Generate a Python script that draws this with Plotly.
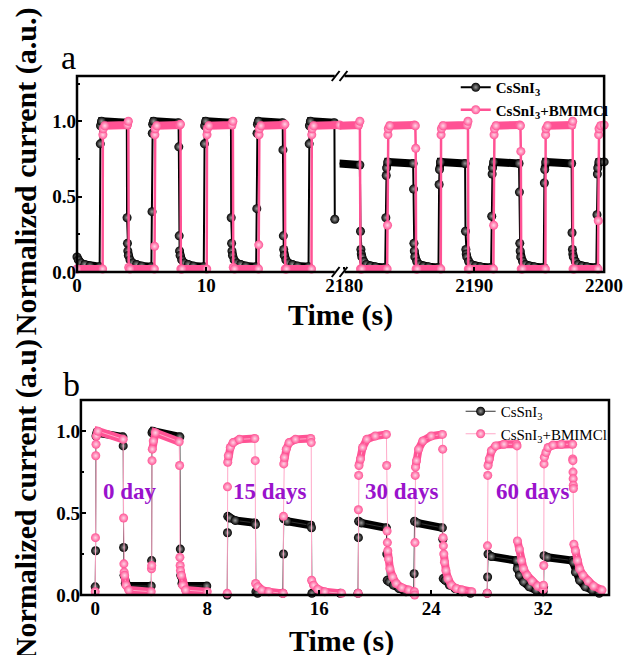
import plotly.graph_objects as go

# ---------------- Panel a : left segment (0 - 20.3 s) ----------------
a_black_left_t = [0, 0.1, 0.3, 0.6, 1.0, 1.75,
                  1.8, 1.82, 1.9, 3.85,
                  3.87, 3.9, 3.93, 3.97, 4.1, 4.3, 4.6, 5.0, 5.75,
                  5.8, 5.82, 5.85, 5.92, 7.85,
                  7.87, 7.9, 7.93, 7.97, 8.1, 8.3, 8.6, 9.0, 9.8,
                  9.85, 9.87, 9.95, 11.9,
                  11.92, 11.95, 11.98, 12.02, 12.15, 12.35, 12.65, 13.05, 13.85,
                  13.9, 13.92, 13.95, 14.02, 15.9,
                  15.92, 15.95, 15.98, 16.02, 16.15, 16.35, 16.65, 17.05, 17.9,
                  17.95, 17.97, 18.05, 19.9, 19.93]
a_black_left_v = [0.10, 0.08, 0.06, 0.05, 0.04, 0.035,
                  0.85, 0.97, 1.00, 0.99,
                  0.36, 0.19, 0.14, 0.11, 0.08, 0.06, 0.05, 0.04, 0.035,
                  0.40, 0.92, 0.98, 1.00, 0.99,
                  0.83, 0.24, 0.14, 0.11, 0.08, 0.06, 0.05, 0.04, 0.035,
                  0.85, 0.97, 1.00, 0.99,
                  0.36, 0.19, 0.14, 0.11, 0.08, 0.06, 0.05, 0.04, 0.035,
                  0.42, 0.92, 0.98, 1.00, 0.99,
                  0.81, 0.24, 0.15, 0.11, 0.08, 0.06, 0.05, 0.04, 0.035,
                  0.85, 0.97, 1.00, 0.99, 0.35]

a_pink_left_t = [0, 1.98,
                 2.0, 2.03, 2.15, 3.9, 3.97,
                 4.0, 4.1, 5.98,
                 6.0, 6.02, 6.05, 6.17, 7.93, 8.0,
                 8.03, 8.12, 10.03,
                 10.05, 10.08, 10.2, 11.98, 12.05,
                 12.08, 12.18, 14.03,
                 14.05, 14.07, 14.1, 14.22, 16.0, 16.07,
                 16.1, 16.2, 18.13,
                 18.15, 18.18, 18.3, 20.3]
a_pink_left_v = [0.02, 0.02,
                 0.91, 0.95, 0.97, 0.975, 1.0,
                 0.03, 0.02, 0.02,
                 0.17, 0.91, 0.95, 0.97, 0.975, 0.98,
                 0.02, 0.02, 0.02,
                 0.91, 0.95, 0.97, 0.975, 1.0,
                 0.03, 0.02, 0.02,
                 0.18, 0.91, 0.95, 0.97, 0.975, 0.98,
                 0.02, 0.02, 0.02,
                 0.91, 0.95, 0.97, 0.975]

# ---------------- Panel a : right segment (2179.6 - 2200 s) ----------------
a_black_right_t = [2179.6, 2181.2,
                   2181.25, 2181.28, 2181.31, 2181.35, 2181.5, 2181.7, 2182.0, 2182.4, 2183.15,
                   2183.2, 2183.23, 2183.26, 2183.35, 2185.3,
                   2185.33, 2185.36, 2185.39, 2185.43, 2185.58, 2185.78, 2186.08, 2186.48, 2187.25,
                   2187.3, 2187.33, 2187.41, 2189.3,
                   2189.33, 2189.36, 2189.39, 2189.43, 2189.58, 2189.78, 2190.08, 2190.48, 2191.3,
                   2191.35, 2191.38, 2191.41, 2191.5, 2193.45,
                   2193.48, 2193.51, 2193.54, 2193.58, 2193.73, 2193.93, 2194.23, 2194.63, 2195.35,
                   2195.4, 2195.43, 2195.51, 2197.5,
                   2197.53, 2197.56, 2197.59, 2197.63, 2197.78, 2197.98, 2198.28, 2198.68, 2199.4,
                   2199.45, 2199.48, 2199.51, 2199.6, 2200]
a_black_right_v = [0.72, 0.71,
                   0.27, 0.15, 0.12, 0.10, 0.07, 0.05, 0.04, 0.035, 0.03,
                   0.36, 0.64, 0.69, 0.73, 0.72,
                   0.55, 0.19, 0.14, 0.10, 0.07, 0.05, 0.04, 0.035, 0.03,
                   0.58, 0.68, 0.73, 0.72,
                   0.27, 0.15, 0.12, 0.10, 0.07, 0.05, 0.04, 0.035, 0.03,
                   0.37, 0.65, 0.69, 0.73, 0.72,
                   0.53, 0.19, 0.14, 0.10, 0.07, 0.05, 0.04, 0.035, 0.03,
                   0.59, 0.68, 0.73, 0.72,
                   0.26, 0.15, 0.12, 0.10, 0.07, 0.05, 0.04, 0.035, 0.03,
                   0.38, 0.65, 0.69, 0.73, 0.73]

a_pink_right_t = [2179.6, 2181.1, 2181.2,
                  2181.25, 2181.35, 2183.3,
                  2183.33, 2183.36, 2183.39, 2183.5, 2185.4, 2185.47,
                  2185.5, 2185.53, 2185.63, 2187.43,
                  2187.45, 2187.48, 2187.6, 2189.45, 2189.52,
                  2189.55, 2189.65, 2191.48,
                  2191.5, 2191.53, 2191.56, 2191.68, 2193.5, 2193.56,
                  2193.59, 2193.62, 2193.72, 2195.48,
                  2195.5, 2195.53, 2195.65, 2197.52, 2197.58,
                  2197.61, 2197.71, 2199.53,
                  2199.55, 2199.58, 2199.61, 2199.73, 2200]
a_pink_right_v = [0.97, 0.975, 1.0,
                  0.02, 0.02, 0.02,
                  0.31, 0.91, 0.95, 0.97, 0.975, 0.97,
                  0.82, 0.02, 0.02, 0.02,
                  0.91, 0.95, 0.97, 0.975, 1.0,
                  0.02, 0.02, 0.02,
                  0.31, 0.91, 0.95, 0.97, 0.975, 0.97,
                  0.80, 0.02, 0.02, 0.02,
                  0.91, 0.95, 0.97, 0.975, 1.0,
                  0.02, 0.02, 0.02,
                  0.34, 0.91, 0.95, 0.97, 0.975]

# ---------------- Panel b : aging (0, 15, 30, 60 days) ----------------
b_black_t = [0.0, 0.03, 0.06, 0.12, 1.98, 2.0, 2.03, 2.06, 2.15, 2.3, 4.0,
             4.03, 4.06, 4.12, 6.05, 6.08, 6.11, 6.2, 6.35, 7.97,
             None,
             9.43, 9.45, 9.47, 9.6, 10.0, 11.4, 11.45, 11.48, 11.6, 13.4,
             13.45, 13.47, 13.7, 15.4, 15.45, 15.48, 17.5,
             None,
             18.77, 18.8, 18.82, 19.0, 20.8, 20.83, 20.86, 21.0, 21.3, 21.7, 22.2, 22.75,
             22.78, 22.81, 23.0, 24.8, 24.83, 24.86, 25.0, 25.3, 25.7, 26.2, 26.8,
             None,
             28.0, 28.03, 28.06, 28.3, 30.1, 30.15, 30.3, 30.6, 31.0, 31.5, 32.0,
             32.03, 32.06, 32.3, 34.1, 34.15, 34.3, 34.6, 35.0, 35.5, 36.0]
b_black_v = [0.05, 0.27, 0.97, 0.99, 0.965, 0.91, 0.29, 0.12, 0.07, 0.055, 0.055,
             0.21, 0.99, 1.0, 0.965, 0.28, 0.12, 0.07, 0.055, 0.055,
             None,
             0.0, 0.38, 0.48, 0.47, 0.455, 0.44, 0.43, 0.02, 0.01, 0.01,
             0.25, 0.465, 0.45, 0.425, 0.41, 0.01, 0.01,
             None,
             0.01, 0.35, 0.45, 0.44, 0.41, 0.25, 0.09, 0.08, 0.06, 0.04, 0.02, 0.01,
             0.13, 0.45, 0.44, 0.41, 0.34, 0.10, 0.09, 0.06, 0.04, 0.02, 0.01,
             None,
             0.01, 0.11, 0.25, 0.235, 0.21, 0.16, 0.12, 0.08, 0.05, 0.03, 0.02,
             0.05, 0.24, 0.23, 0.21, 0.20, 0.14, 0.09, 0.05, 0.03, 0.01]

b_pink_t = [0.0, 0.02, 0.04, 0.06, 0.09, 0.2, 2.0, 2.03, 2.05, 2.07, 2.1, 2.2, 2.4, 4.0,
            4.02, 4.04, 4.06, 4.08, 4.15, 4.3, 6.0, 6.03, 6.05, 6.07, 6.09, 6.15, 6.25, 6.45, 8.0,
            None,
            9.43, 9.45, 9.47, 9.51, 9.65, 9.85, 10.3, 11.4, 11.43, 11.46, 11.6, 11.9, 12.4, 13.4,
            13.43, 13.45, 13.47, 13.51, 13.65, 13.85, 14.3, 15.4, 15.43, 15.46, 15.6, 15.9, 16.4, 17.6,
            None,
            18.78, 18.8, 18.82, 18.84, 18.95, 19.1, 19.4, 20.0, 20.8, 20.82, 20.85, 20.87, 20.9,
            20.95, 21.05, 21.25, 21.5, 21.9, 22.4, 22.8,
            22.82, 22.84, 22.86, 22.88, 22.95, 23.1, 23.4, 24.0, 24.8, 24.82, 24.85, 24.87, 24.9,
            24.95, 25.05, 25.2, 25.45, 25.8, 26.2, 26.9,
            None,
            28.0, 28.02, 28.04, 28.06, 28.15, 28.3, 28.6, 29.2, 30.1, 30.13, 30.16, 30.3, 30.45,
            30.6, 30.85, 31.2, 31.6, 32.0,
            32.02, 32.04, 32.06, 32.08, 32.2, 32.35, 32.7, 33.3, 34.1, 34.11, 34.12, 34.13, 34.14,
            34.15, 34.16, 34.19, 34.3, 34.45, 34.6, 34.85, 35.2, 35.6, 36.2]
b_pink_v = [0.02, 0.35, 0.85, 0.92, 0.97, 1.0, 0.95, 0.47, 0.19, 0.14, 0.12, 0.06, 0.03, 0.02,
            0.16, 0.18, 0.82, 0.89, 0.94, 0.99, 0.935, 0.79, 0.23, 0.18, 0.15, 0.12, 0.06, 0.03, 0.02,
            None,
            0.01, 0.66, 0.81, 0.85, 0.90, 0.93, 0.95, 0.955, 0.82, 0.07, 0.05, 0.03, 0.02, 0.01,
            0.01, 0.48, 0.80, 0.84, 0.89, 0.93, 0.95, 0.955, 0.93, 0.09, 0.06, 0.035, 0.02, 0.01,
            None,
            0.01, 0.52, 0.73, 0.79, 0.83, 0.90, 0.95, 0.97, 0.98, 0.79, 0.39, 0.32, 0.27,
            0.22, 0.16, 0.11, 0.07, 0.045, 0.03, 0.02,
            0.0, 0.32, 0.73, 0.78, 0.82, 0.89, 0.94, 0.97, 0.98, 0.89, 0.35, 0.30, 0.25,
            0.20, 0.15, 0.10, 0.06, 0.04, 0.03, 0.02,
            None,
            0.01, 0.30, 0.73, 0.79, 0.83, 0.88, 0.91, 0.92, 0.92, 0.91, 0.33, 0.28, 0.21,
            0.16, 0.12, 0.085, 0.055, 0.035,
            0.06, 0.18, 0.80, 0.84, 0.87, 0.90, 0.915, 0.92, 0.92, 0.83, 0.82, 0.75, 0.71,
            0.67, 0.65, 0.31, 0.27, 0.21, 0.16, 0.12, 0.085, 0.055, 0.03]

day_labels = ["0 day", "15 days", "30 days", "60 days"]
day_label_t = [2.5, 12.5, 21.9, 31.3]
day_label_v = [0.63, 0.63, 0.63, 0.63]

a_xticks_left = [0, 10]
a_xticks_right = [2180, 2190, 2200]
b_xticks = [0, 8, 16, 24, 32]
y_ticks = [0.0, 0.5, 1.0]

# ---------------- styling ----------------
W, H = 640, 655
ML, MR, MT, MB = 77, 18, 76, 60
PW, PH = W - ML - MR, H - MT - MB


def PX(x):
    return (x - ML) / PW


def PY(y):
    return (MT + PH - y) / PH


FONT = "Liberation Serif"
BLACK = "#000000"
PINK = "#FF5294"


def band(ts, vs):
    """dense stretches of the record (slowly varying) -> drawn as a thick band"""
    bt, bv = [], []
    last = None
    for i in range(len(ts) - 1):
        t0, t1, v0, v1 = ts[i], ts[i + 1], vs[i], vs[i + 1]
        if t0 is None or t1 is None:
            continue
        dt = t1 - t0
        if dt >= 0.039 and abs(v1 - v0) <= 3 * dt:
            if last != i:
                if bt:
                    bt.append(None)
                    bv.append(None)
                bt.append(t0)
                bv.append(v0)
            bt.append(t1)
            bv.append(v1)
            last = i + 1
    return bt, bv


fig = go.Figure()


def add_series(ts, vs, xa, ya, color, lcolor, lw, name, show, legend, msize, grad):
    bt, bv = band(ts, vs)
    fig.add_trace(go.Scatter(x=bt, y=bv, mode="lines", xaxis=xa, yaxis=ya,
                             line=dict(color=color, width=msize - 1),
                             showlegend=False, hoverinfo="skip", cliponaxis=False))
    fig.add_trace(go.Scatter(x=ts, y=vs, mode="lines+markers", xaxis=xa, yaxis=ya,
                             name=name, showlegend=show, legend=legend,
                             line=dict(color=lcolor, width=lw),
                             marker=dict(size=msize, color=color, line=dict(width=0),
                                         gradient=dict(type="radial", color=grad)),
                             cliponaxis=False))


name_a1 = "<b>CsSnI<sub>3</sub></b>"
name_a2 = "<b>CsSnI<sub>3</sub>+BMIMCl</b>"
name_b1 = "CsSnI<sub>3</sub>"
name_b2 = "CsSnI<sub>3</sub>+BMIMCl"

add_series(a_black_left_t, a_black_left_v, "x", "y", BLACK, BLACK, 2, name_a1, True, "legend", 9, "#9a9a9a")
add_series(a_black_right_t, a_black_right_v, "x2", "y", BLACK, BLACK, 2, name_a1, False, "legend", 9, "#9a9a9a")
add_series(a_pink_left_t, a_pink_left_v, "x", "y", PINK, PINK, 2.5, name_a2, True, "legend", 9, "#ffd6e6")
add_series(a_pink_right_t, a_pink_right_v, "x2", "y", PINK, PINK, 2.5, name_a2, False, "legend", 9, "#ffd6e6")
add_series(b_black_t, b_black_v, "x3", "y2", BLACK, "#333333", 1, name_b1, True, "legend2", 9, "#9a9a9a")
add_series(b_pink_t, b_pink_v, "x3", "y2", PINK, "#FFA8C8", 1, name_b2, True, "legend2", 9, "#ffd6e6")

tickfont = dict(family=FONT, size=19, color="black", weight="bold")
B = PX(346)
common_x = dict(showgrid=False, zeroline=False, showline=False, ticks="inside",
                ticklen=5, tickwidth=2, tickcolor="black", tickfont=tickfont)
common_y = dict(showgrid=False, zeroline=False, showline=False, ticks="inside",
                ticklen=5, tickwidth=2, tickcolor="black", tickfont=tickfont,
                tickvals=y_ticks, tickformat=".1f",
                minor=dict(ticks="inside", ticklen=3, tickwidth=1.5, tickcolor="black", dtick=0.25))

fig.update_layout(
    width=W, height=H, margin=dict(l=ML, r=MR, t=MT, b=MB),
    paper_bgcolor="white", plot_bgcolor="white",
    xaxis=dict(domain=[0, B], range=[0, 20.3], anchor="y", tickvals=a_xticks_left, **common_x),
    xaxis2=dict(domain=[B, PX(617)], range=[2179.64, 2200], anchor="y", tickvals=a_xticks_right, **common_x),
    yaxis=dict(domain=[PY(272), 1], range=[0, 1.30], anchor="x", **common_y),
    xaxis3=dict(domain=[PX(81), 1], range=[-1.02, 36.7], anchor="y2", tickvals=b_xticks, **common_x),
    yaxis2=dict(domain=[0, PY(400)], range=[0, 1.19], anchor="x3", **common_y),
    legend=dict(x=PX(465), y=PY(71), xanchor="left", yanchor="top", bgcolor="rgba(0,0,0,0)",
                font=dict(family=FONT, size=15, color="black"), itemwidth=30, tracegroupgap=0),
    legend2=dict(x=PX(470), y=PY(395), xanchor="left", yanchor="top", bgcolor="rgba(0,0,0,0)",
                 font=dict(family=FONT, size=15, color="black"), itemwidth=30, tracegroupgap=0),
    showlegend=True,
)

shapes = []
# frames
shapes.append(dict(type="rect", xref="paper", yref="paper", x0=0, x1=PX(617), y0=PY(272), y1=1,
                   line=dict(color="black", width=2.5), layer="above"))
shapes.append(dict(type="rect", xref="paper", yref="paper", x0=PX(81), x1=1, y0=0, y1=PY(400),
                   line=dict(color="black", width=2.5), layer="above"))
# axis-break marks
for yc in (76, 272):
    shapes.append(dict(type="rect", xref="paper", yref="paper", x0=PX(341), x1=PX(351),
                       y0=PY(yc + 2.5), y1=PY(yc - 2.5), fillcolor="white", line=dict(width=0), layer="above"))
    for dx in (-4, 4):
        shapes.append(dict(type="line", xref="paper", yref="paper",
                           x0=PX(346 + dx - 4), y0=PY(yc + 5), x1=PX(346 + dx + 4), y1=PY(yc - 5),
                           line=dict(color="black", width=2), layer="above"))
fig.update_layout(shapes=shapes)


def note(text, x, y, size, angle=0, color="black"):
    return dict(text=text, x=PX(x), y=PY(y), xref="paper", yref="paper", showarrow=False,
                xanchor="center", yanchor="middle", textangle=angle,
                font=dict(family=FONT, size=size, color=color))


ann = [note("a", 68, 57, 34), note("b", 71, 384, 34),
       note("<b>Normalized current (a.u.)</b>", 25, 171, 30, -90),
       note("<b>Normalized current (a.u)</b>", 25, 499, 30, -90),
       note("<b>Time (s)</b>", 347, 315, 30),
       note("<b>Time (s)</b>", 348, 641, 30)]
for lab, t, v in zip(day_labels, day_label_t, day_label_v):
    ann.append(dict(text="<b>%s</b>" % lab, x=t, y=v, xref="x3", yref="y2", showarrow=False,
                    xanchor="center", yanchor="middle",
                    font=dict(family=FONT, size=23, color="#9A12CC")))
fig.update_layout(annotations=ann)

fig.write_html("out.html")
